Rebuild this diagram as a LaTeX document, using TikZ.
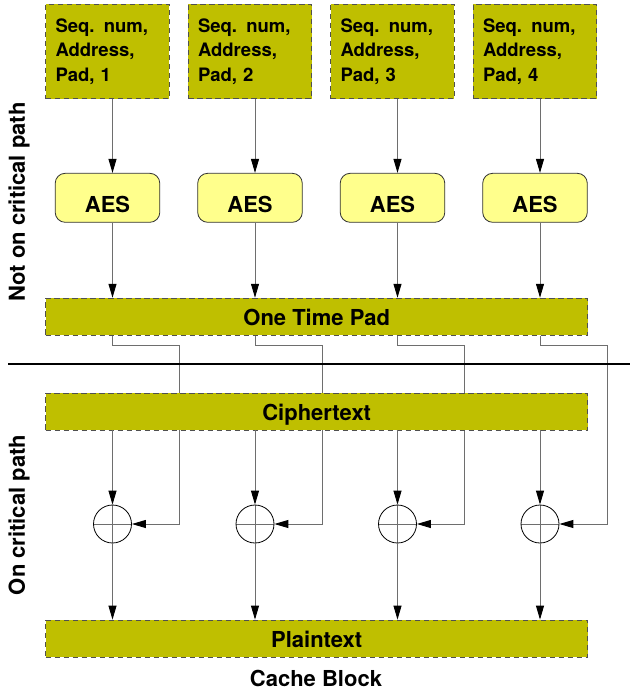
\documentclass[tikz,border=0pt]{standalone}
\usepackage{fontspec}
\setmainfont{TeX Gyre Heros}
\usetikzlibrary{arrows.meta,calc}
\pgfdeclarelayer{bg}
\pgfsetlayers{bg,main}
\definecolor{olive}{RGB}{191,191,0}
\definecolor{aesfill}{RGB}{255,255,140}
\definecolor{wire}{RGB}{110,110,110}
\definecolor{edge}{RGB}{80,80,80}
\tikzset{
  bar/.style={draw=edge, dashed, dash pattern=on 5.5pt off 3.5pt, line width=0.9pt,
    fill=olive, inner sep=0pt,
    font=\fontsize{22}{26}\selectfont\bfseries},
  wide/.style={bar, minimum width=542pt, text height=18.4pt, text depth=0pt},
  inbox/.style={bar, minimum width=123.4pt, minimum height=94.7pt,
    text width=104pt, inner xsep=9.7pt, align=left,
    font=\fontsize{18.5}{24.5}\selectfont\bfseries},
  aesbox/.style={draw=black!80, line width=0.8pt, fill=aesfill, rounded corners=10pt,
    minimum width=104.6pt, minimum height=49pt, inner sep=0pt,
    text height=29pt, text depth=0pt,
    font=\fontsize{22}{26}\selectfont\bfseries},
  xorop/.style={circle, draw=black, line width=0.8pt, minimum size=38pt, inner sep=0pt,
    path picture={\draw[wire, line width=0.8pt]
      (path picture bounding box.north) -- (path picture bounding box.south)
      (path picture bounding box.west) -- (path picture bounding box.east);}},
  arr/.style={draw=wire, line width=0.9pt, -{Triangle[length=14pt,width=8pt,color=black]}},
  lbl/.style={inner sep=0pt, font=\fontsize{22}{26}\selectfont\bfseries},
}
\begin{document}
\begin{tikzpicture}[x=1pt, y=-1pt]
\useasboundingbox (0,0) rectangle (630,691);

% input blocks, AES units, XOR units per column
\foreach \i/\xc in {1/107.5, 2/250, 3/392.5, 4/535} {
  \node[inbox] (s\i) at (\xc,51.4) {Seq. num,\\Address,\\Pad, \i};
  \node[aesbox] (a\i) at (\xc,197.8) {AES};
  \coordinate (c\i) at (\xc+5,0);
  \node[xorop] (x\i) at (\xc+5,524) {};
  \coordinate (f\i) at (\xc+72,345);
}

% wide data bars
\node[wide, minimum height=37pt] (otp) at (316.7,316.7) {One Time Pad};
\node[wide, minimum height=37pt] (cipher) at (316.7,411.5) {Ciphertext};
\node[wide, minimum height=37.3pt] (plain) at (316.7,638.7) {Plaintext};

% pad words routed down to the XOR units (behind the bars)
\begin{pgfonlayer}{bg}
\foreach \i in {1,...,4} {
  \draw[arr] (otp.south -| c\i) |- (f\i) |- (x\i.east);
}
\end{pgfonlayer}

% vertical data flow
\foreach \i in {1,...,4} {
  \draw[arr] (s\i.south -| c\i) -- (a\i.north -| c\i);
  \draw[arr] (a\i.south -| c\i) -- (otp.north -| c\i);
  \draw[arr] (cipher.south -| c\i) -- (x\i.north);
  \draw[arr] (x\i.south) -- (plain.north -| c\i);
}

% critical path divider
\coordinate (sepL) at (8,364);
\coordinate (sepR) at (630,364);
\draw[line width=1.5pt] (sepL) -- (sepR);

% labels
\node[lbl, rotate=90] (notcrit) at (19,202) {Not on critical path};
\node[lbl, rotate=90] (crit) at (19,515) {On critical path};
\node[lbl] (cache) at (316,678) {Cache Block};
\end{tikzpicture}
\end{document}
